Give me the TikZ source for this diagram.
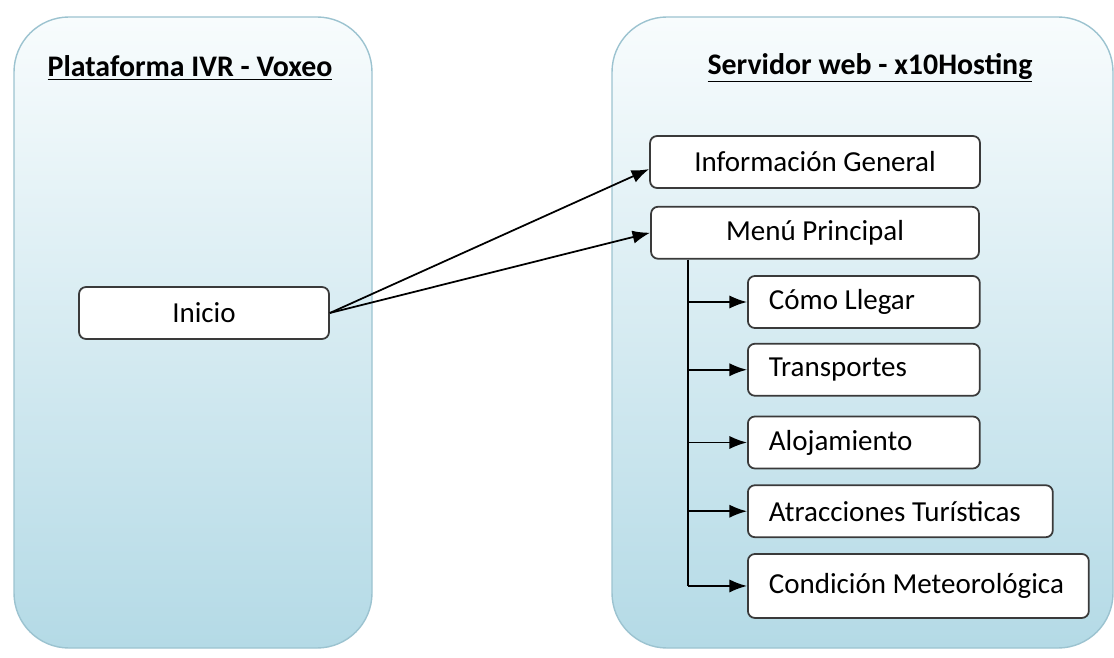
\documentclass[tikz,border=0pt]{standalone}
\usepackage{fontspec}
\setmainfont{Carlito}
\usepackage{xcolor}
\usetikzlibrary{arrows.meta,positioning}

\definecolor{panelTop}{HTML}{F8FCFD}
\definecolor{panelBottom}{HTML}{B4DAE6}
\definecolor{panelLine}{HTML}{9CC3D0}
\definecolor{boxLine}{HTML}{3A3A3A}

\begin{document}
\begin{tikzpicture}[
    x=0.02cm, y=-0.02cm,
    panel/.style={draw=panelLine, line width=0.8pt, rounded corners=1.1cm, top color=panelTop, bottom color=panelBottom},
    heading/.style={font=\fontsize{17}{20}\selectfont\bfseries},
    item/.style={rectangle, draw=boxLine, line width=1pt, rounded corners=4pt, fill=white, minimum height=1.04cm, font=\fontsize{16.5}{19}\selectfont},
    subitem/.style={item, align=flush left, inner xsep=0.42cm, text width=#1},
    link/.style={-{Latex[length=10pt,width=7.5pt]}, line width=1pt}
]
    \useasboundingbox (0,0) rectangle (1114,658);

    % the two platforms
    \path[panel] (14,17) rectangle (372,648);
    \path[panel] (612,17) rectangle (1113,648);
    \node[heading] (ivrtitle) at (190,68) {\underline{Plataforma IVR - Voxeo}};
    \node[heading] (webtitle) at (870,68) {\underline{Servidor web - x10Hosting}};

    % IVR side
    \node[item, minimum width=5cm] (inicio) at (204,313) {Inicio};

    % web server side
    \node[item, minimum width=6.6cm] (info) at (815,162) {Información General};
    \node[item, minimum width=6.56cm, below=0.34cm of info] (menu) {Menú Principal};

    \node[subitem=3.8cm, anchor=west] (como) at (747,302) {Cómo Llegar};
    \node[subitem=3.8cm, below=0.28cm of como.south west, anchor=north west] (transp) {Transportes};
    \node[subitem=3.8cm, below=0.38cm of transp.south west, anchor=north west] (aloja) {Alojamiento};
    \node[subitem=5.26cm, below=0.3cm of aloja.south west, anchor=north west] (atrac) {Atracciones Turísticas};
    \node[subitem=5.98cm, minimum height=1.28cm, below=0.3cm of atrac.south west, anchor=north west] (meteo) {Condición Meteorológica};

    \draw[link] (inicio.east) -- ([yshift=-4pt]info.west);
    \draw[link] (inicio.east) -- (menu.west);

    \coordinate (trunk) at (688,0);
    \draw[line width=1pt] (trunk |- menu.south) -- (trunk |- meteo.west);
    \foreach \sub in {como,transp,aloja,atrac,meteo}
        \draw[link] (trunk |- \sub.west) -- (\sub.west);
\end{tikzpicture}
\end{document}
